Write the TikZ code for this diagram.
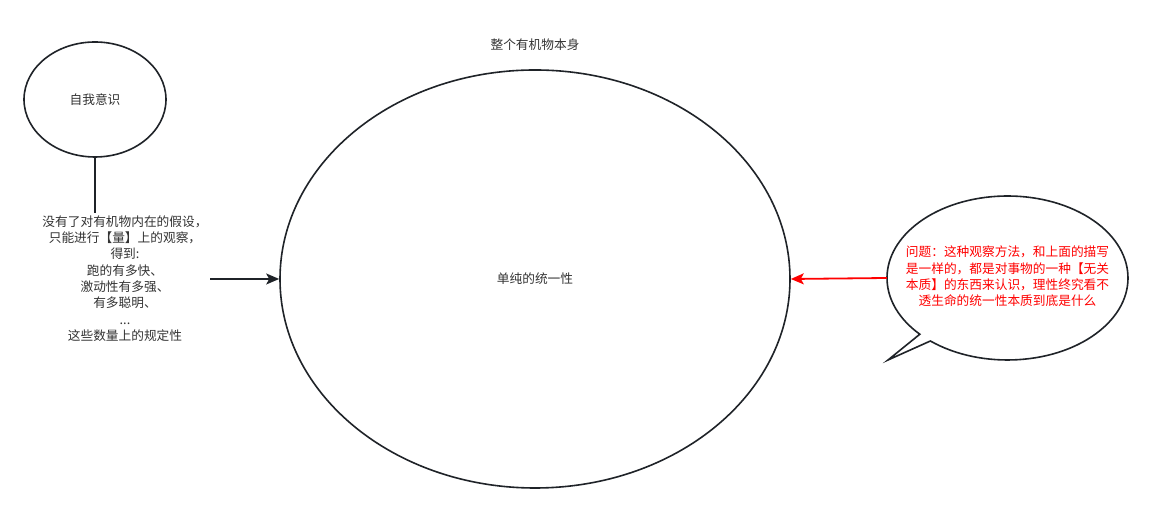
\documentclass[tikz,border=0pt]{standalone}
\usepackage{fontspec}
\setmainfont{Noto Sans CJK SC}
\usetikzlibrary{shapes.geometric,arrows.meta,calc}
\definecolor{linec}{HTML}{1F2328}
\definecolor{txtc}{HTML}{333333}
\definecolor{redc}{HTML}{FF0000}
\tikzset{
  shapeline/.style={draw=linec,line width=1.6pt},
  ell/.style={ellipse,shapeline,inner sep=0pt},
  lbl/.style={text=txtc,font=\fontsize{12.7}{16.3}\selectfont,align=center,inner sep=0pt},
  redlbl/.style={text=redc,font=\fontsize{12.7}{16.3}\selectfont,align=center,inner sep=0pt},
  blackarrow/.style={draw=linec,line width=1.6pt,-{Stealth[length=13pt,width=11pt,inset=3pt]}},
  redarrow/.style={draw=redc,line width=1.8pt,-{Stealth[length=13pt,width=11pt,inset=3pt]}}
}
\begin{document}
\begin{tikzpicture}[x=1pt,y=1pt]
\useasboundingbox[fill=white] (0,0) rectangle (1152,513);
% self-awareness ellipse
\node[ell,minimum width=142pt,minimum height=115pt] (self) at (95,413.5) {};
\node[lbl] (selft) at (95,413.5) {自我意识};
\coordinate (selfend) at (95,300);
\draw[shapeline] (self.south) -- (selfend);
% left text
\node[lbl] (left) at (125,234.5) {没有了对有机物内在的假设，\\只能进行【量】上的观察，\\得到:\\跑的有多快、\\激动性有多强、\\有多聪明、\\...\\这些数量上的规定性};
\coordinate (arrstart) at (210,234);
% big ellipse
\node[ell,minimum width=510pt,minimum height=418pt] (big) at (535,234) {};
\node[lbl] (bigt) at (535,234) {单纯的统一性};
\node[lbl] (title) at (535,468) {整个有机物本身};
\draw[blackarrow] (arrstart) -- (big.west);
% speech bubble
\node[ellipse,minimum width=241pt,minimum height=164pt,inner sep=0pt] (bub) at (1007.5,235) {};
\coordinate (tip) at (888,153);
\draw[shapeline,fill=white,line join=miter]
  ($(1007.5,235)+(230.2:120.5 and 82)$) arc[start angle=230.2,end angle=583.3,x radius=120.5,y radius=82]
  -- (tip) -- cycle;
\node[redlbl] (bubt) at (1007.5,236.5) {问题：这种观察方法，和上面的描写\\是一样的，都是对事物的一种【无关\\本质】的东西来认识，理性终究看不\\透生命的统一性本质到底是什么};
\draw[redarrow] (bub.west) -- (big.east);
\end{tikzpicture}
\end{document}
